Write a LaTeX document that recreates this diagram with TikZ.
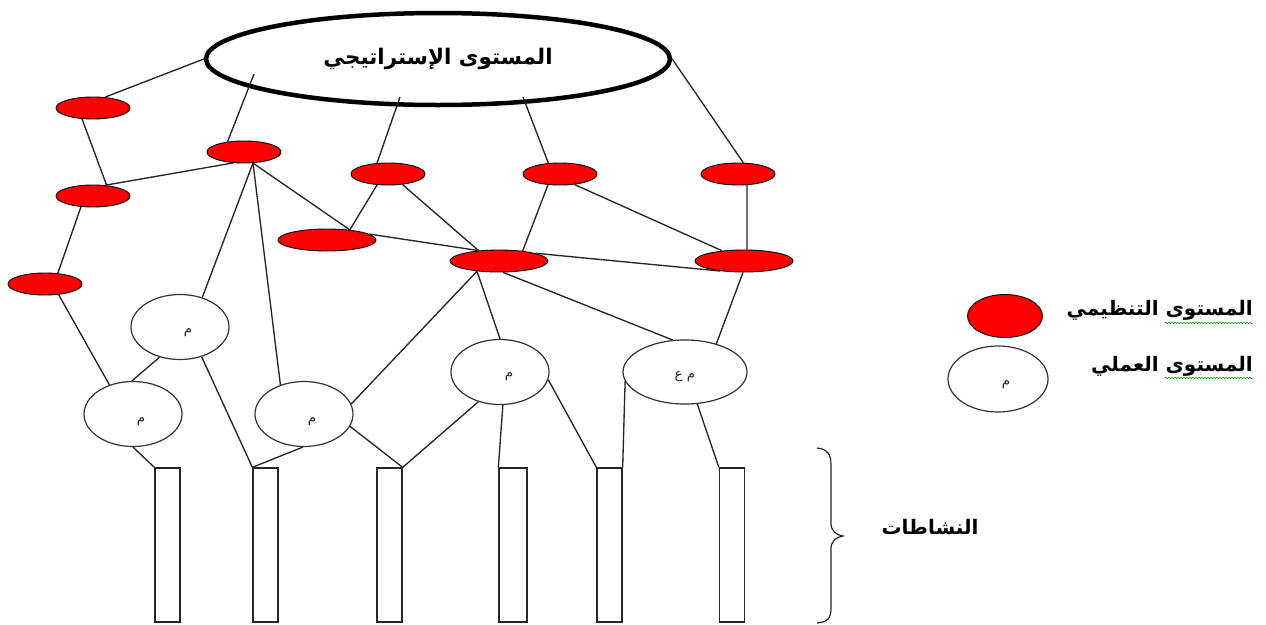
\documentclass[tikz,border=0pt]{standalone}
\usepackage{fontspec}
\usetikzlibrary{shapes.geometric,decorations.pathmorphing}
\newfontfamily\arabicfont[Script=Arabic]{DejaVu Sans}
\TeXXeTstate=1
\newcommand\meem{\beginR م\endR}

\begin{document}
\begin{tikzpicture}[x=1pt,y=-1pt,
  link/.style={line width=1.35pt, draw=black!85},
  strat/.style={ellipse, draw=black, line width=4.5pt, inner sep=0pt,
    minimum width=464pt, minimum height=92pt},
  orgnode/.style={ellipse, draw=black, line width=0.9pt, fill=red, inner sep=0pt,
    minimum width=74pt, minimum height=22pt},
  orgwide/.style={orgnode, minimum width=98pt},
  opnode/.style={ellipse, draw=black!80, line width=1.2pt, fill=white, inner sep=0pt,
    minimum width=98pt, minimum height=65pt},
  bar/.style={rectangle, draw=black!85, line width=1.3pt, inner sep=0pt,
    minimum width=25pt, minimum height=154pt},
  mtag/.style={font=\arabicfont\fontsize{13.5}{15}\selectfont, inner sep=0pt, text=black!85},
  artext/.style={font=\arabicfont\bfseries\fontsize{20}{24}\selectfont, inner sep=0pt},
  spell/.style={green!60!black, line width=0.6pt, decorate,
    decoration={snake, amplitude=0.7pt, segment length=3pt}},
]
\useasboundingbox (0,0) rectangle (1266,624);

% strategic level
\node[strat, artext, font=\arabicfont\bfseries\fontsize{21.5}{26}\selectfont] (S) at (438,59)
  {\raisebox{-3pt}{\beginR المستوى الإستراتيجي\endR}};

% organisational level
\node[orgnode] (R1) at (93,108) {};
\node[orgnode] (R2) at (244,152) {};
\node[orgnode] (R3) at (93,196) {};
\node[orgnode] (R4) at (388,174) {};
\node[orgnode] (R5) at (560,174) {};
\node[orgnode] (R6) at (738,174) {};
\node[orgwide] (R7) at (327,240) {};
\node[orgnode] (R8) at (45,284) {};
\node[orgwide] (R9) at (499,261) {};
\node[orgwide] (R10) at (744,261) {};

% operational level
\node[opnode, label={[mtag, xshift=8pt, yshift=-6pt]center:\meem}] (W1) at (180,327) {};
\node[opnode, label={[mtag, xshift=8pt, yshift=-8pt]center:\meem}] (W2) at (133,414) {};
\node[opnode, label={[mtag, xshift=8pt, yshift=-8pt]center:\meem}] (W3) at (304,414) {};
\node[opnode, label={[mtag, xshift=9pt, yshift=-5pt]center:\meem}] (W4) at (500,372) {};
\node[opnode, minimum width=124pt, minimum height=64pt,
  label={[mtag, yshift=-5pt]center:\beginR م ع\endR}] (W5) at (685,372) {};

% activities
\node[bar] (B1) at (167.5,545) {};
\node[bar] (B2) at (265.5,545) {};
\node[bar] (B3) at (389.5,545) {};
\node[bar, minimum width=28pt] (B4) at (513,545) {};
\node[bar] (B5) at (609.5,545) {};
\node[bar] (B6) at (732,545) {};

% inner ends of the strategic links
\coordinate (s2) at (254,74);
\coordinate (s4) at (400,97);
\coordinate (s5) at (523,97);

% strategic -> organisational
\draw[link] (S.west) -- (R1.42);
\draw[link] (s2) -- (R2.148);
\draw[link] (s4) -- (R4.135);
\draw[link] (s5) -- (R5.137);
\draw[link] (S.east) -- (R6.65);

% organisational network
\draw[link] (R1.225) -- (R3.38);
\draw[link] (R3.41) -- (R2.225);
\draw[link] (R3.222) -- (R8.40);
\draw[link] (R2.309) -- (R7.24);
\draw[link] (R4.225) -- (R7.24);
\draw[link] (R4.324) -- (R9.153);
\draw[link] (R7.8) -- (R9.153);
\draw[link] (R5.222) -- (R9.23);
\draw[link] (R5.324) -- (R10.155);
\draw[link] (R9.12) -- (R10.203);
\draw[link] (R6.309) -- (R10.75);

% organisational -> operational
\draw[link] (R8.322) -- (W2.129);
\draw[link] (R2.309) -- (W1.53);
\draw[link] (R2.309) -- (W3.129);
\draw[link] (R9.205) -- (W3.12);
\draw[link] (R9.205) -- (W4.90);
\draw[link] (R9.290) -- (W5.111);
\draw[link] (R10.265) -- (W5.42);

% operational -> activities
\draw[link] (W1.236) -- (W2.92);
\draw[link] (W1.306) -- (B2.north west);
\draw[link] (W2.270) -- (B1.north west);
\draw[link] (W3.268) -- (B2.north west);
\draw[link] (W3.345) -- (B3.north east);
\draw[link] (W4.234) -- (B3.north east);
\draw[link] (W4.275) -- (B4.north west);
\draw[link] (W4.351) -- (B5.north west);
\draw[link] (W5.189) -- (B5.north east);
\draw[link] (W5.291) -- (B6.north west);

% brace over the activities
\draw[line width=1.2pt, black!85] (817,448) .. controls (828,449) and (831,455) .. (831,465)
  -- (831,523) .. controls (831,531) and (836,535) .. (843,536)
  .. controls (836,537) and (831,541) .. (831,549)
  -- (831,608) .. controls (831,618) and (828,622) .. (817,623);
\node[artext] (act) at (930,527) {\beginR النشاطات\endR};

% legend
\node[orgnode, minimum width=75pt, minimum height=43pt] (LR) at (1005,316) {};
\node[opnode, minimum width=100pt, minimum height=66pt,
  label={[mtag, xshift=8pt, yshift=-6pt]center:\meem}] (LW) at (998,379) {};
\node[artext, anchor=east] (LRt) at (1253,310) {\beginR المستوى التنظيمي\endR};
\node[artext, anchor=east] (LWt) at (1253,366) {\beginR المستوى العملي\endR};
\draw[spell] (1165,323) -- (1253,323);
\draw[spell] (1165,378) -- (1253,378);
\end{tikzpicture}
\end{document}
